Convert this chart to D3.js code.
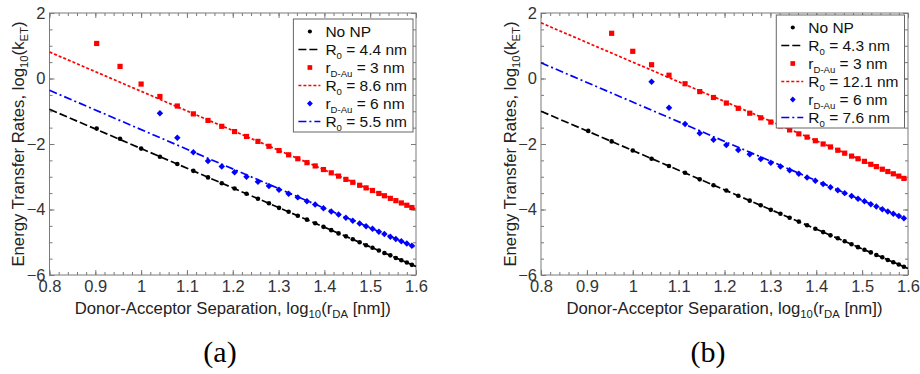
<!DOCTYPE html>
<html>
<head>
<meta charset="utf-8">
<script src="https://cdn.jsdelivr.net/npm/d3@7"></script>
<style>
  body { margin: 0; background: #fff; }
  svg { display: block; font-family: "Liberation Sans", Arial, sans-serif; }
</style>
</head>
<body>
<svg width="920" height="374"></svg>
<script>
// log10(rDA [nm]) for rDA = 8 ... 39 nm
const logR = [0.903, 0.954, 1.000, 1.041, 1.079, 1.114, 1.146, 1.176, 1.204, 1.230,
  1.255, 1.279, 1.301, 1.322, 1.342, 1.362, 1.380, 1.398, 1.415, 1.431, 1.447, 1.462,
  1.477, 1.491, 1.505, 1.519, 1.531, 1.544, 1.556, 1.568, 1.580, 1.591];

// panel (a)
const noNP_a = [-1.53, -1.84, -2.14, -2.39, -2.61, -2.82, -3.02, -3.20, -3.36, -3.52,
  -3.67, -3.81, -3.95, -4.07, -4.19, -4.31, -4.42, -4.53, -4.63, -4.73, -4.82, -4.91,
  -5.00, -5.09, -5.17, -5.25, -5.33, -5.40, -5.48, -5.55, -5.62, -5.69];
const red_a = [1.07, 0.37, -0.17, -0.55, -0.84, -1.08, -1.28, -1.46, -1.62, -1.77,
  -1.92, -2.07, -2.20, -2.33, -2.45, -2.57, -2.67, -2.78, -2.88, -2.98, -3.08, -3.17,
  -3.26, -3.34, -3.42, -3.51, -3.58, -3.66, -3.73, -3.80, -3.87, -3.94];
const blue_a = [-1.06, -1.81, -2.25, -2.52, -2.69, -2.86, -3.00, -3.15, -3.28, -3.40,
  -3.52, -3.63, -3.75, -3.85, -3.96, -4.06, -4.15, -4.25, -4.34, -4.43, -4.51, -4.59,
  -4.68, -4.75, -4.83, -4.90, -4.97, -5.04, -5.11];

// panel (b)
const noNP_b = [-1.60, -1.92, -2.20, -2.45, -2.67, -2.88, -3.08, -3.26, -3.42, -3.58,
  -3.73, -3.87, -4.01, -4.13, -4.25, -4.37, -4.48, -4.59, -4.69, -4.79, -4.88, -4.97,
  -5.06, -5.15, -5.23, -5.31, -5.39, -5.46, -5.54, -5.61, -5.68, -5.75];
const red_b = [1.38, 0.83, 0.42, 0.10, -0.16, -0.40, -0.58, -0.75, -0.91, -1.06,
  -1.20, -1.33, -1.45, -1.57, -1.69, -1.79, -1.90, -2.00, -2.09, -2.19, -2.28, -2.37,
  -2.45, -2.53, -2.62, -2.69, -2.77, -2.84, -2.91, -2.98, -3.05];
const blue_b = [-0.10, -0.89, -1.39, -1.67, -1.87, -2.03, -2.18, -2.31, -2.46, -2.57,
  -2.69, -2.80, -2.91, -3.02, -3.12, -3.22, -3.32, -3.41, -3.50, -3.59, -3.67, -3.75,
  -3.84, -3.91, -3.99, -4.06, -4.13, -4.20, -4.27];

// fitted lines, values at x = 0.8 and x = 1.6
const fitX = [0.8, 1.6];
const fitNoNP_a = [-0.94, -5.74];
const fitRed_a = [0.81, -3.99];
const fitBlue_a = [-0.36, -5.16];
const fitNoNP_b = [-1.00, -5.80];
const fitRed_b = [1.70, -3.10];
const fitBlue_b = [0.48, -4.32];

const r0_a = ["4.4", "8.6", "5.5"];
const r0_b = ["4.3", "12.1", "7.6"];
const rDAu = ["3", "6"];

const xTicks = [0.8, 0.9, 1.0, 1.1, 1.2, 1.3, 1.4, 1.5, 1.6];
const xTickLabels = ["0.8", "0.9", "1", "1.1", "1.2", "1.3", "1.4", "1.5", "1.6"];
const yTicks = [2, 0, -2, -4, -6];
const yTickLabels = ["2", "0", "\u22122", "\u22124", "\u22126"];

const svg = d3.select("svg");
const frameCol = "#7a7a7a";

// text with subscripts: parts = [[string, isSub], ...]
function rich(sel, parts, size, subScale) {
  const shift = size * 0.25;
  let down = false;
  parts.forEach(([s, sub]) => {
    const t = sel.append("tspan").text(s);
    if (sub) {
      t.attr("font-size", size * subScale).attr("dy", down ? 0 : shift);
      down = true;
    } else {
      if (down) t.attr("dy", -shift);
      down = false;
    }
  });
  return sel;
}

const panels = [
  { left: 49.5, right: 416, top: 13, bottom: 275, legRight: 413, legY: 19, tag: "(a)", tagX: 220,
    noNP: noNP_a, red: red_a, blue: blue_a, fits: [fitNoNP_a, fitRed_a, fitBlue_a], r0: r0_a },
  { left: 541, right: 908, top: 13, bottom: 275, legRight: 904.5, legY: 15, tag: "(b)", tagX: 708,
    noNP: noNP_b, red: red_b, blue: blue_b, fits: [fitNoNP_b, fitRed_b, fitBlue_b], r0: r0_b }
];

const lineStyles = [
  { color: "#000", dash: "8,3", width: 1.7 },
  { color: "#ff0000", dash: "3,2", width: 1.7 },
  { color: "#0000ff", dash: "8,3,2,3", width: 1.7 }
];

const markerFns = [
  (sel, s) => sel.append("circle").attr("r", 2.3 * s).attr("fill", "#000"),
  (sel, s) => sel.append("rect").attr("x", -2.6 * s).attr("y", -2.6 * s)
    .attr("width", 5.2 * s).attr("height", 5.2 * s).attr("fill", "#ff0000"),
  (sel, s) => sel.append("path").attr("d", d3.symbol(d3.symbolSquare, 21 * s * s)())
    .attr("transform", "rotate(45)").attr("fill", "#0000ff")
];

panels.forEach((p) => {
  const g = svg.append("g");
  const x = d3.scaleLinear().domain([0.8, 1.6]).range([p.left, p.right]);
  const y = d3.scaleLinear().domain([-6, 2]).range([p.bottom, p.top]);
  const xMinor = d3.range(0.8, 1.6001, 0.02);
  const yMinor = d3.range(-6, 2.001, 0.5);

  // axes with inward ticks on all four sides
  const axes = [
    [d3.axisBottom(x).tickValues(xMinor).tickSize(-3).tickFormat(""), `translate(0,${p.bottom})`],
    [d3.axisBottom(x).tickValues(xTicks).tickSize(-5).tickPadding(5).tickFormat((d, i) => xTickLabels[i]), `translate(0,${p.bottom})`],
    [d3.axisTop(x).tickValues(xMinor).tickSize(-3).tickFormat(""), `translate(0,${p.top})`],
    [d3.axisTop(x).tickValues(xTicks).tickSize(-5).tickFormat(""), `translate(0,${p.top})`],
    [d3.axisLeft(y).tickValues(yMinor).tickSize(-3).tickFormat(""), `translate(${p.left},0)`],
    [d3.axisLeft(y).tickValues(yTicks).tickSize(-5).tickPadding(4).tickFormat((d, i) => yTickLabels[i]), `translate(${p.left},0)`],
    [d3.axisRight(y).tickValues(yMinor).tickSize(-3).tickFormat(""), `translate(${p.right},0)`],
    [d3.axisRight(y).tickValues(yTicks).tickSize(-5).tickFormat(""), `translate(${p.right},0)`]
  ];
  axes.forEach(([ax, tr]) => {
    const a = g.append("g").attr("transform", tr).call(ax);
    a.select(".domain").remove();
    a.selectAll("line").attr("stroke", frameCol);
    a.selectAll("text").attr("font-size", 16.5).attr("fill", "#333")
      .attr("font-family", '"Liberation Sans", Arial, sans-serif');
  });

  g.append("rect")
    .attr("x", p.left).attr("y", p.top)
    .attr("width", p.right - p.left).attr("height", p.bottom - p.top)
    .attr("fill", "none").attr("stroke", frameCol).attr("stroke-width", 1);

  // fit lines
  const line = d3.line().x((d) => x(d[0])).y((d) => y(d[1]));
  p.fits.forEach((f, i) => {
    g.append("path")
      .datum(fitX.map((v, j) => [v, f[j]]))
      .attr("d", line)
      .attr("fill", "none")
      .attr("stroke", lineStyles[i].color)
      .attr("stroke-width", lineStyles[i].width)
      .attr("stroke-dasharray", lineStyles[i].dash);
  });

  // data points
  [p.noNP, p.red, p.blue].forEach((vals, i) => {
    const off = logR.length - vals.length;
    const pts = vals.map((v, j) => [logR[off + j], v]);
    g.selectAll(null).data(pts).enter().append("g")
      .attr("transform", (d) => `translate(${x(d[0])},${y(d[1])})`)
      .each(function () { markerFns[i](d3.select(this), 1); });
  });

  // axis titles
  rich(g.append("text")
    .attr("x", (p.left + p.right) / 2).attr("y", 314)
    .attr("text-anchor", "middle").attr("font-size", 16.7).attr("fill", "#222"),
    [["Donor-Acceptor Separation, log"], ["10", 1], ["(r"], ["DA", 1], [" [nm])"]], 16.7, 0.68);

  rich(g.append("text")
    .attr("transform", `translate(${p.left - 25.5},${(p.top + p.bottom) / 2}) rotate(-90)`)
    .attr("text-anchor", "middle").attr("font-size", 16.7).attr("fill", "#222"),
    [["Energy Transfer Rates, log"], ["10", 1], ["(k"], ["ET", 1], [")"]], 16.7, 0.68);

  // panel tag
  g.append("text")
    .attr("x", p.tagX).attr("y", 362)
    .attr("text-anchor", "middle")
    .attr("font-family", '"Liberation Serif", "Times New Roman", serif')
    .attr("font-size", 30).attr("fill", "#000")
    .text(p.tag);

  // legend
  const entries = [
    { kind: "m", i: 0, parts: [["No NP"]] },
    { kind: "l", i: 0, parts: [["R"], ["0", 1], [` = ${p.r0[0]} nm`]] },
    { kind: "m", i: 1, parts: [["r"], ["D-Au", 1], [` = ${rDAu[0]} nm`]] },
    { kind: "l", i: 1, parts: [["R"], ["0", 1], [` = ${p.r0[1]} nm`]] },
    { kind: "m", i: 2, parts: [["r"], ["D-Au", 1], [` = ${rDAu[1]} nm`]] },
    { kind: "l", i: 2, parts: [["R"], ["0", 1], [` = ${p.r0[2]} nm`]] }
  ];
  const leg = g.append("g");
  const box = leg.append("rect").attr("fill", "#fff").attr("stroke", "#666").attr("stroke-width", 1);
  const rows = leg.append("g");
  let maxW = 0;
  entries.forEach((e, k) => {
    const cy = 12.5 + k * 18;
    if (e.kind === "l") {
      const s = lineStyles[e.i];
      rows.append("line").attr("x1", 5).attr("x2", 27).attr("y1", cy).attr("y2", cy)
        .attr("stroke", s.color).attr("stroke-width", s.width).attr("stroke-dasharray", s.dash);
    } else {
      markerFns[e.i](rows.append("g").attr("transform", `translate(16.5,${cy})`), 0.9);
    }
    const t = rich(rows.append("text").attr("x", 32).attr("y", cy + 5.4)
      .attr("font-size", 15.5).attr("fill", "#111"), e.parts, 15.5, 0.62);
    maxW = Math.max(maxW, t.node().getComputedTextLength());
  });
  const w = 32 + maxW + 6;
  leg.attr("transform", `translate(${p.legRight - w},${p.legY})`);
  box.attr("x", 0).attr("y", 0).attr("width", w).attr("height", 113);
});
</script>
</body>
</html>
